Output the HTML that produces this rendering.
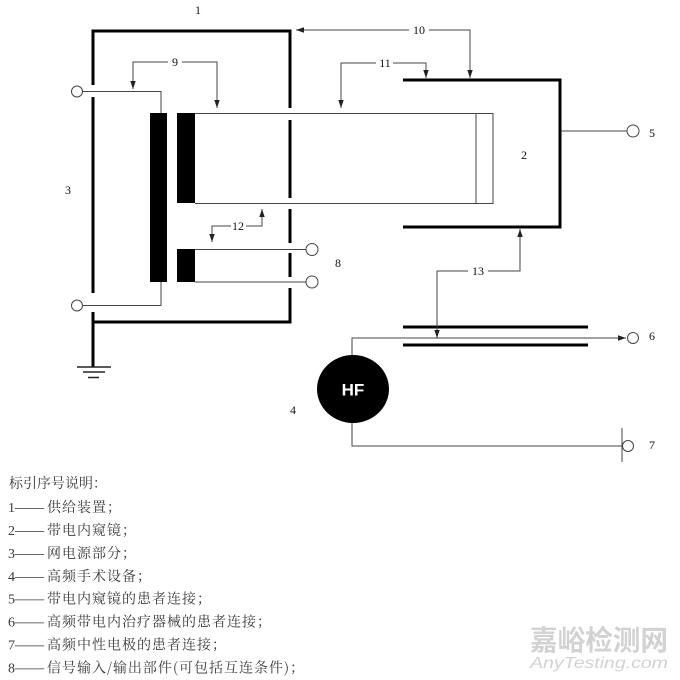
<!DOCTYPE html>
<html><head><meta charset="utf-8"><style>
html,body{margin:0;padding:0;background:#fff;}
svg{display:block;}
.n{font-family:"Liberation Serif",serif;font-size:12px;fill:#111;}
.lg{font-family:"Liberation Serif","Noto Serif CJK SC",serif;font-size:14px;fill:#3a3a3a;}
.cj{font-family:"Noto Serif CJK SC","Liberation Serif",serif;font-size:14px;fill:#3a3a3a;letter-spacing:1px;}
</style></head><body>
<svg width="680" height="680" viewBox="0 0 680 680" xmlns="http://www.w3.org/2000/svg">
<defs>
<marker id="a" viewBox="0 0 8 8" refX="8" refY="4" markerWidth="8" markerHeight="8" markerUnits="userSpaceOnUse" orient="auto">
<path d="M0,1.3 L8,4 L0,6.7 Z" fill="#222"/>
</marker>
</defs>
<rect width="680" height="680" fill="#fff"/>

<!-- thick lines box 1 -->
<g stroke="#000" stroke-width="3" fill="none" stroke-linecap="butt">
<path d="M93,85 V31 H290 V108"/>
<line x1="93" y1="97" x2="93" y2="293"/>
<line x1="93" y1="312" x2="93" y2="367"/>
<line x1="290" y1="120" x2="290" y2="198"/>
<line x1="290" y1="209" x2="290" y2="243"/>
<line x1="290" y1="253" x2="290" y2="277"/>
<path d="M290,288 V322 H93"/>
<!-- box 2 -->
<path d="M403,80 H560 V227 H403"/>
<line x1="403" y1="327" x2="588" y2="327"/>
<line x1="403" y1="345" x2="588" y2="345"/>
</g>

<!-- black bars -->
<rect x="150" y="113" width="17" height="169" fill="#000"/>
<rect x="177" y="113" width="18" height="90" fill="#000"/>
<rect x="177" y="249" width="18" height="33" fill="#000"/>

<!-- thin lines -->
<g stroke="#444" stroke-width="1" fill="none">
<circle cx="77" cy="91.5" r="5.5" fill="#fff"/>
<path d="M82.5,91.5 H161 V113"/>
<circle cx="77" cy="305.5" r="5.5" fill="#fff"/>
<path d="M82.5,305.5 H161 V282"/>
<!-- endoscope -->
<path d="M195,113.5 H493 V203.5 H195"/>
<line x1="476" y1="113.5" x2="476" y2="203.5"/>
<!-- signal IO -->
<line x1="195" y1="249.5" x2="306" y2="249.5"/>
<circle cx="312" cy="249.5" r="6" fill="#fff"/>
<line x1="195" y1="282" x2="306" y2="282"/>
<circle cx="312" cy="282" r="6" fill="#fff"/>
<!-- patient conn 5 -->
<line x1="561" y1="131" x2="627" y2="131"/>
<circle cx="633" cy="131" r="6" fill="#fff"/>
<!-- HF connections -->
<path d="M352,356 V338 H626" marker-end="url(#a)"/>
<circle cx="633" cy="338" r="5.5" fill="#fff"/>
<path d="M352,422 V446 H622"/>
<line x1="622" y1="428" x2="622" y2="462"/>
<circle cx="628" cy="446" r="5.5" fill="#fff"/>
</g>

<!-- ground -->
<g stroke="#222" stroke-width="1.5">
<line x1="77" y1="367" x2="111" y2="367"/>
<line x1="83" y1="372" x2="105" y2="372"/>
<line x1="88" y1="377.5" x2="99" y2="377.5"/>
</g>

<!-- HF -->
<ellipse cx="353" cy="389" rx="36" ry="34" fill="#000"/>
<text x="353" y="395.5" text-anchor="middle" font-family="Liberation Sans, sans-serif" font-weight="bold" font-size="17" fill="#fff">HF</text>

<!-- leaders -->
<g stroke="#444" stroke-width="1" fill="none">
<path d="M168,62 H133 V89" marker-end="url(#a)"/>
<path d="M182,62 H217 V108" marker-end="url(#a)"/>
<path d="M409,30 H296" marker-end="url(#a)"/>
<path d="M429,30 H470 V78" marker-end="url(#a)"/>
<path d="M376,63 H341 V108" marker-end="url(#a)"/>
<path d="M393,63 H426 V78" marker-end="url(#a)"/>
<path d="M231,226 H212 V242" marker-end="url(#a)"/>
<path d="M246,226 H262 V209" marker-end="url(#a)"/>
<path d="M468,271 H437 V338" marker-end="url(#a)"/>
<path d="M488,271 H520 V229" marker-end="url(#a)"/>
</g>

<!-- number labels -->
<text class="n" x="198" y="14" text-anchor="middle">1</text>
<text class="n" x="175" y="66" text-anchor="middle">9</text>
<text class="n" x="419" y="34" text-anchor="middle">10</text>
<text class="n" x="385" y="67" text-anchor="middle">11</text>
<text class="n" x="238" y="230" text-anchor="middle">12</text>
<text class="n" x="478" y="275" text-anchor="middle">13</text>
<text class="n" x="68" y="194" text-anchor="middle">3</text>
<text class="n" x="524" y="159" text-anchor="middle">2</text>
<text class="n" x="652" y="137" text-anchor="middle">5</text>
<text class="n" x="338" y="267" text-anchor="middle">8</text>
<text class="n" x="293" y="414" text-anchor="middle">4</text>
<text class="n" x="652" y="340" text-anchor="middle">6</text>
<text class="n" x="652" y="449" text-anchor="middle">7</text>

<!-- legend -->
<text class="cj" x="9" y="488" style="letter-spacing:0">标引序号说明：</text>

<g>
<text class="lg" x="8" y="512">1</text><text class="cj" x="14" y="512" textLength="31" lengthAdjust="spacingAndGlyphs" style="letter-spacing:0">——</text><text class="cj" x="47" y="512">供给装置；</text>
<text class="lg" x="8" y="535">2</text><text class="cj" x="14" y="535" textLength="31" lengthAdjust="spacingAndGlyphs" style="letter-spacing:0">——</text><text class="cj" x="47" y="535">带电内窥镜；</text>
<text class="lg" x="8" y="558">3</text><text class="cj" x="14" y="558" textLength="31" lengthAdjust="spacingAndGlyphs" style="letter-spacing:0">——</text><text class="cj" x="47" y="558">网电源部分；</text>
<text class="lg" x="8" y="581">4</text><text class="cj" x="14" y="581" textLength="31" lengthAdjust="spacingAndGlyphs" style="letter-spacing:0">——</text><text class="cj" x="47" y="581">高频手术设备；</text>
<text class="lg" x="8" y="603.5">5</text><text class="cj" x="14" y="603.5" textLength="31" lengthAdjust="spacingAndGlyphs" style="letter-spacing:0">——</text><text class="cj" x="47" y="603.5">带电内窥镜的患者连接；</text>
<text class="lg" x="8" y="626.5">6</text><text class="cj" x="14" y="626.5" textLength="31" lengthAdjust="spacingAndGlyphs" style="letter-spacing:0">——</text><text class="cj" x="47" y="626.5">高频带电内治疗器械的患者连接；</text>
<text class="lg" x="8" y="649.5">7</text><text class="cj" x="14" y="649.5" textLength="31" lengthAdjust="spacingAndGlyphs" style="letter-spacing:0">——</text><text class="cj" x="47" y="649.5">高频中性电极的患者连接；</text>
<text class="lg" x="8" y="672.5">8</text><text class="cj" x="14" y="672.5" textLength="31" lengthAdjust="spacingAndGlyphs" style="letter-spacing:0">——</text><text class="cj" x="47" y="672.5">信号输入/输出部件(可包括互连条件)；</text>
</g>

<!-- watermark -->
<text x="530" y="650" textLength="138" lengthAdjust="spacingAndGlyphs" font-family="Liberation Sans, Noto Sans CJK SC, sans-serif" font-weight="bold" font-size="28" fill="#d2d2d2">嘉峪检测网</text>
<text x="530" y="668" textLength="138" lengthAdjust="spacingAndGlyphs" font-family="Liberation Sans, sans-serif" font-style="italic" font-size="16" fill="#d2d2d2">AnyTesting.com</text>
</svg>
</body></html>
